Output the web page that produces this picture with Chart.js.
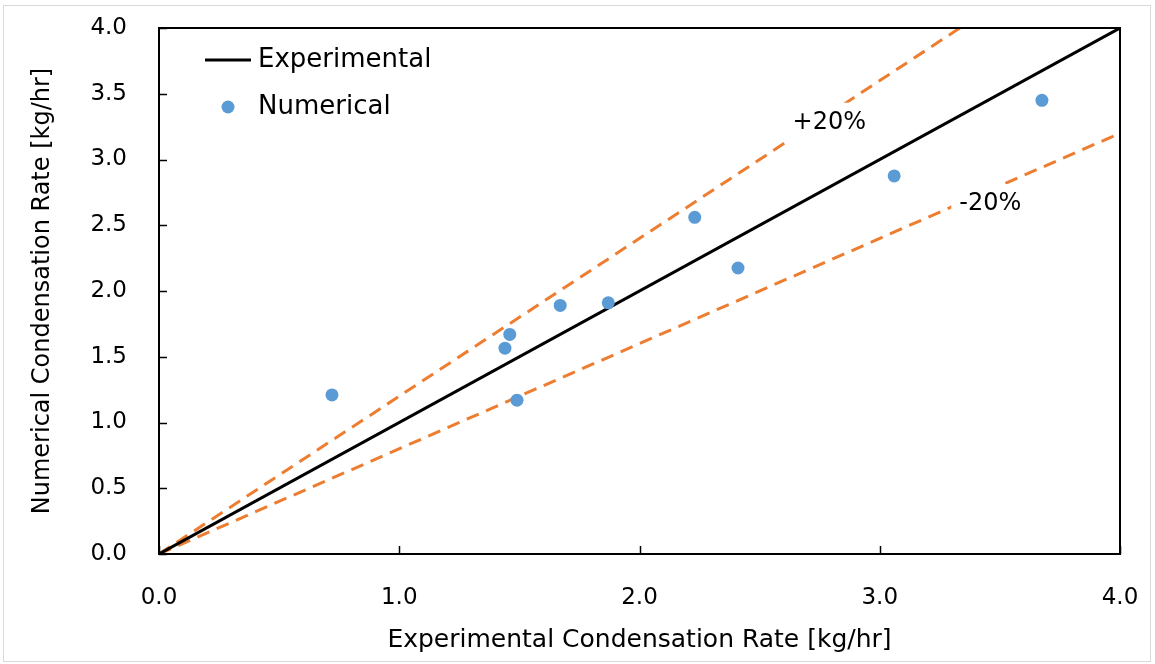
<!DOCTYPE html>
<html>
<head>
<meta charset="utf-8">
<script src="https://cdn.jsdelivr.net/npm/chart.js@4.4.1/dist/chart.umd.min.js"></script>
<style>
  html, body { margin: 0; padding: 0; background: #fff; }
  #wrap { position: relative; width: 1155px; height: 664px; }
  #frame { position: absolute; left: 3px; top: 5px; width: 1148px; height: 657px; border: 1px solid #d9d9d9; box-sizing: border-box; pointer-events: none; }
</style>
</head>
<body>
<div id="wrap">
  <canvas id="grafico" width="1155" height="664"></canvas>
  <div id="frame"></div>
</div>
<script>
// valores
const expX = [0.72, 1.44, 1.46, 1.49, 1.67, 1.87, 2.23, 2.41, 3.06, 3.675];
const numY = [1.21, 1.565, 1.67, 1.17, 1.89, 1.91, 2.56, 2.175, 2.875, 3.45];

// linha de referencia e faixas de +-20%
const refX = [0, 4];
const refY = [0, 4];
const plusY = [0, 4.8];
const minusY = [0, 3.2];

const xTicks = [0, 1, 2, 3, 4];
const yTicks = [0, 0.5, 1, 1.5, 2, 2.5, 3, 3.5, 4];

// rotulos das faixas (posicao em unidades dos eixos)
const faixaTextos = ['+20%', '-20%'];
const faixaX = [2.79, 3.46];
const faixaY = [3.28, 2.66];

const FONTE = "'DejaVu Sans', sans-serif";
const pares = (xs, ys) => xs.map((x, i) => ({ x, y: ys[i] }));

// Caixa preta com marcas de escala para dentro
const caixaPlugin = {
  id: 'caixa',
  afterDatasetsDraw(chart) {
    const { ctx, chartArea: a, scales: { x, y } } = chart;
    ctx.save();

    // rotulos +20% / -20% com fundo branco
    ctx.font = '24px ' + FONTE;
    ctx.textAlign = 'center';
    ctx.textBaseline = 'middle';
    faixaTextos.forEach((txt, i) => {
      const px = x.getPixelForValue(faixaX[i]);
      const py = y.getPixelForValue(faixaY[i]);
      const w = ctx.measureText(txt).width;
      ctx.fillStyle = '#fff';
      ctx.fillRect(px - w / 2 - 8, py - 20, w + 16, 40);
      ctx.fillStyle = '#000';
      ctx.fillText(txt, px, py);
    });

    ctx.strokeStyle = '#000';
    ctx.lineWidth = 2;
    ctx.strokeRect(a.left, a.top, a.right - a.left, a.bottom - a.top);

    ctx.lineWidth = 1.5;
    ctx.beginPath();
    xTicks.forEach(v => {
      const px = Math.round(x.getPixelForValue(v)) + 0.5;
      ctx.moveTo(px, a.bottom);
      ctx.lineTo(px, a.bottom - 8);
    });
    yTicks.forEach(v => {
      const py = Math.round(y.getPixelForValue(v)) + 0.5;
      ctx.moveTo(a.left, py);
      ctx.lineTo(a.left + 8, py);
    });
    ctx.stroke();
    ctx.restore();
  }
};

// Legenda dentro da area do grafico
const legendaPlugin = {
  id: 'legendaInterna',
  afterDraw(chart) {
    const { ctx } = chart;
    const pts = chart.data.datasets[0];
    const exp = chart.data.datasets[1];
    ctx.save();
    ctx.font = '26px ' + FONTE;
    ctx.textAlign = 'left';
    ctx.textBaseline = 'middle';
    ctx.fillStyle = '#000';

    ctx.strokeStyle = exp.borderColor;
    ctx.lineWidth = exp.borderWidth;
    ctx.beginPath();
    ctx.moveTo(205, 60);
    ctx.lineTo(251, 60);
    ctx.stroke();
    ctx.fillText(exp.label, 258, 60);

    ctx.fillStyle = pts.backgroundColor;
    ctx.beginPath();
    ctx.arc(228, 107, pts.pointRadius, 0, Math.PI * 2);
    ctx.fill();
    ctx.fillStyle = '#000';
    ctx.fillText(pts.label, 258, 107);
    ctx.restore();
  }
};

const ctxGrafico = document.getElementById('grafico').getContext('2d');
new Chart(ctxGrafico, {
  type: 'scatter',
  data: {
    datasets: [{
      label: 'Numerical',
      data: pares(expX, numY),
      backgroundColor: '#5B9BD5',
      borderColor: '#5B9BD5',
      pointRadius: 6.5,
      pointHoverRadius: 6.5,
      pointBorderWidth: 0
    }, {
      label: 'Experimental',
      data: pares(refX, refY),
      showLine: true,
      borderColor: '#000',
      borderWidth: 3,
      pointRadius: 0
    }, {
      label: '+20%',
      data: pares(refX, plusY),
      showLine: true,
      borderColor: '#ED7D31',
      borderWidth: 3,
      borderDash: [13, 8],
      pointRadius: 0
    }, {
      label: '-20%',
      data: pares(refX, minusY),
      showLine: true,
      borderColor: '#ED7D31',
      borderWidth: 3,
      borderDash: [13, 8],
      pointRadius: 0
    }]
  },
  options: {
    responsive: false,
    animation: false,
    layout: { padding: { left: 0, top: 28, right: 35, bottom: 0 } },
    plugins: {
      legend: { display: false },
      tooltip: { enabled: false }
    },
    scales: {
      x: {
        type: 'linear',
        min: 0,
        max: 4,
        afterFit: s => { s.height = 110; s.paddingLeft = 0; s.paddingRight = 0; },
        afterBuildTicks: s => { s.ticks = xTicks.map(v => ({ value: v })); },
        grid: { display: false, drawTicks: false },
        border: { display: false },
        ticks: {
          padding: 30,
          color: '#000',
          font: { family: FONTE, size: 23 },
          callback: v => v.toFixed(1)
        },
        title: {
          display: true,
          text: 'Experimental Condensation Rate [kg/hr]',
          color: '#000',
          font: { family: FONTE, size: 25 },
          padding: { top: 0, bottom: 9 }
        }
      },
      y: {
        type: 'linear',
        min: 0,
        max: 4,
        afterFit: s => { s.width = 159; s.paddingTop = 0; s.paddingBottom = 0; },
        afterBuildTicks: s => { s.ticks = yTicks.map(v => ({ value: v })); },
        grid: { display: false, drawTicks: false },
        border: { display: false },
        ticks: {
          padding: 32,
          color: '#000',
          font: { family: FONTE, size: 23 },
          callback: v => v.toFixed(1)
        },
        title: {
          display: true,
          text: 'Numerical Condensation Rate [kg/hr]',
          color: '#000',
          font: { family: FONTE, size: 24 },
          padding: { top: 28, bottom: 0 }
        }
      }
    }
  },
  plugins: [caixaPlugin, legendaPlugin]
});
</script>
</body>
</html>
